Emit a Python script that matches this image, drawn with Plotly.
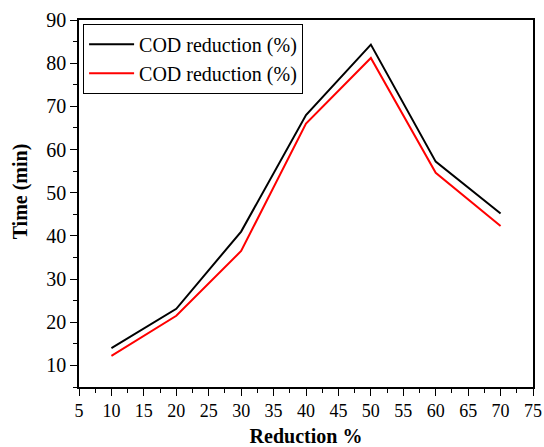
import plotly.graph_objects as go

reduction = [10, 20, 30, 40, 50, 60, 70]
time_black = [14.0, 23.1, 41.0, 68.0, 84.3, 57.2, 45.2]
time_red = [12.2, 21.5, 36.5, 66.0, 81.2, 54.6, 42.3]
names = ["COD reduction (%)", "COD reduction (%)"]
x_title = "Reduction %"
y_title = "Time (min)"

fig = go.Figure()
fig.add_trace(go.Scatter(x=reduction, y=time_black, mode="lines", name=names[0],
                         line=dict(color="black", width=2)))
fig.add_trace(go.Scatter(x=reduction, y=time_red, mode="lines", name=names[1],
                         line=dict(color="red", width=2)))

font = "Times New Roman, Liberation Serif, serif"
axis_common = dict(showgrid=False, zeroline=False, showline=True, linecolor="black",
                   linewidth=1.5, mirror=True, ticks="outside", ticklen=7, tickwidth=1,
                   tickcolor="black", automargin=False)

fig.update_xaxes(range=[5, 75], dtick=5, tick0=5,
                 minor=dict(dtick=2.5, ticks="outside", ticklen=4, tickcolor="black"),
                 tickfont=dict(family=font, size=18, color="black"),
                 title=dict(text="<b>" + x_title + "</b>", font=dict(family=font, size=20, color="black"),
                            standoff=24),
                 **axis_common)
fig.update_yaxes(range=[5, 90], dtick=10, tick0=10,
                 minor=dict(dtick=5, ticks="outside", ticklen=4, tickcolor="black"),
                 tickfont=dict(family=font, size=20, color="black"),
                 **axis_common)

fig.add_annotation(text="<b>" + y_title + "</b>", textangle=-90,
                   xref="paper", yref="paper", x=-0.13, y=0.533,
                   xanchor="center", yanchor="middle", showarrow=False,
                   font=dict(family=font, size=20, color="black"))

fig.update_layout(
    width=544, height=447,
    margin=dict(l=79, r=11, t=20, b=60),
    plot_bgcolor="white", paper_bgcolor="white",
    font=dict(family=font, color="black"),
    legend=dict(x=0.009, y=0.99, xanchor="left", yanchor="top",
                bordercolor="black", borderwidth=1, bgcolor="white",
                font=dict(family=font, size=20, color="black"),
                tracegroupgap=0, itemwidth=45),
    showlegend=True,
)

fig.write_html("out.html", config={"displayModeBar": False},
               post_script="document.body.style.margin='0';")
